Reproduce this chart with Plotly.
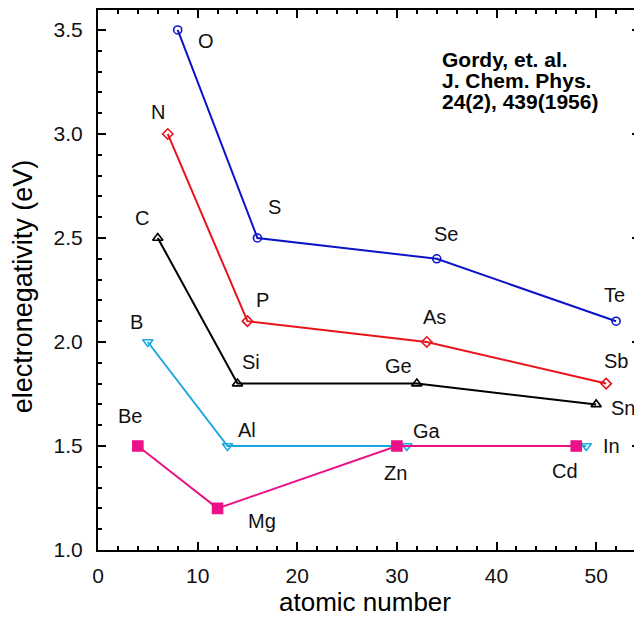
import plotly.graph_objects as go

# Data
o_x = [8, 16, 34, 52]; o_y = [3.5, 2.5, 2.4, 2.1]; o_lab = ["O", "S", "Se", "Te"]
n_x = [7, 15, 33, 51]; n_y = [3.0, 2.1, 2.0, 1.8]; n_lab = ["N", "P", "As", "Sb"]
c_x = [6, 14, 32, 50]; c_y = [2.5, 1.8, 1.8, 1.7]; c_lab = ["C", "Si", "Ge", "Sn"]
b_x = [5, 13, 31, 49]; b_y = [2.0, 1.5, 1.5, 1.5]; b_lab = ["B", "Al", "Ga", "In"]
be_x = [4, 12, 30, 48]; be_y = [1.5, 1.2, 1.5, 1.5]; be_lab = ["Be", "Mg", "Zn", "Cd"]
x_ticks = [0, 10, 20, 30, 40, 50]
y_ticks = [1.0, 1.5, 2.0, 2.5, 3.0, 3.5]
ref_lines = ["Gordy, et. al.", "J. Chem. Phys.", "24(2), 439(1956)"]

# label offsets (pixels)
o_off = [(28, -11), (17, 31), (9, 25), (-2, 26)]
n_off = [(-10, 22), (15, 21), (8, 25), (10, 23)]
c_off = [(-16, 20), (14, 22), (-18, 18), (27, -4)]
b_off = [(-11, 20), (19, 16), (20, 15), (25, 0)]
be_off = [(-8, 30), (44, -13), (-1, -27), (-11, -25)]

FONT = "Liberation Sans, Arial, sans-serif"

# page geometry (body has 8px margin)
PL, PR, PT, PB = 98, 642, 10, 550
W, H = 634, 610


def px(x):
    return (x - PL) / (PR - PL)


def py(y):
    return (PB - y) / (PB - PT)


series = [
    (b_x, b_y, b_lab, b_off, "#1ea8e0", "triangle-down-open", 9),
    (c_x, c_y, c_lab, c_off, "#000000", "triangle-up-open", 9),
    (n_x, n_y, n_lab, n_off, "#e8141c", "diamond-open", 8),
    (o_x, o_y, o_lab, o_off, "#0a14c8", "circle-open", 8),
    (be_x, be_y, be_lab, be_off, "#ec1187", "square", 10),
]

fig = go.Figure()
annotations = []
for xs, ys, labs, offs, col, sym, sz in series:
    fig.add_trace(go.Scatter(
        x=xs, y=ys, mode="lines+markers",
        line=dict(color=col, width=2),
        marker=dict(symbol=sym, size=sz, color=col, line=dict(color=col, width=1.6)),
        showlegend=False, cliponaxis=False,
    ))
    for x, y, lab, (dx, dy) in zip(xs, ys, labs, offs):
        annotations.append(dict(
            x=x, y=y, xref="x", yref="y", text=lab, showarrow=False,
            xshift=dx, yshift=dy, font=dict(family=FONT, size=20, color="#111111"),
        ))

for i, line in enumerate(ref_lines):
    annotations.append(dict(
        x=px(441), y=py(59 + 21 * i), xref="paper", yref="paper",
        xanchor="left", yanchor="middle", align="left", showarrow=False,
        text="<b>" + line + "</b>",
        font=dict(family=FONT, size=21, color="#000000"),
    ))

annotations.append(dict(
    x=px(366), y=py(602), xref="paper", yref="paper",
    xanchor="center", yanchor="middle", showarrow=False,
    text="atomic number", font=dict(family=FONT, size=26, color="#000000"),
))
annotations.append(dict(
    x=px(23), y=py(286), xref="paper", yref="paper",
    xanchor="center", yanchor="middle", showarrow=False, textangle=-90,
    text="electronegativity (eV)", font=dict(family=FONT, size=27, color="#000000"),
))

axis_common = dict(
    showgrid=False, zeroline=False, showline=True, linecolor="black", linewidth=2,
    mirror="ticks", ticks="inside", ticklen=8, tickwidth=1.5, tickcolor="black",
    tickfont=dict(family=FONT, size=21, color="#111111"),
)

fig.update_xaxes(range=[0, 54.4], tickvals=x_ticks,
                 minor=dict(ticks="inside", ticklen=4, tickwidth=1.5, tickcolor="black", dtick=2, tick0=0),
                 ticklabelstandoff=6, **axis_common)
fig.update_yaxes(range=[1.0, 3.596], tickvals=y_ticks, tickformat=".1f",
                 minor=dict(ticks="inside", ticklen=4, tickwidth=1.5, tickcolor="black", dtick=0.1, tick0=1.0),
                 ticklabelstandoff=9, **axis_common)

fig.update_layout(
    width=W, height=H,
    margin=dict(l=PL - 8, r=W - (PR - 8), t=PT - 8, b=H - (PB - 8)),
    plot_bgcolor="white", paper_bgcolor="white",
    annotations=annotations,
    showlegend=False,
)

fig.write_html("out.html")
